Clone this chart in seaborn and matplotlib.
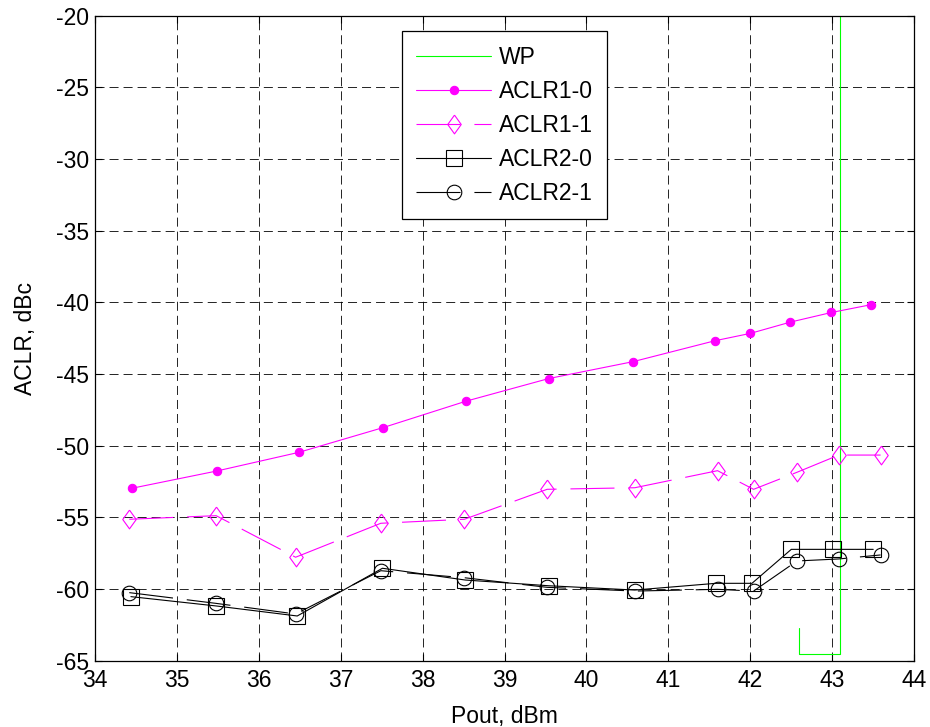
import matplotlib
matplotlib.use("Agg")
import matplotlib.pyplot as plt
import seaborn as sns
import pandas as pd

# ---- data ----
wp_x = [42.6, 42.6, 43.1, 43.1]
wp_y = [-62.7, -64.5, -64.5, -20.0]

x10 = [34.45, 35.49, 36.49, 37.52, 38.53, 39.54, 40.57, 41.57, 42.00, 42.49, 42.99, 43.47]
aclr10 = [-52.97, -51.76, -50.46, -48.73, -46.89, -45.31, -44.13, -42.67, -42.16, -41.37, -40.70, -40.16]

x11 = [34.42, 35.48, 36.45, 37.49, 38.51, 39.52, 40.59, 41.60, 42.04, 42.57, 43.08, 43.59]
aclr11 = [-55.13, -54.88, -57.78, -55.41, -55.13, -53.04, -52.93, -51.74, -53.04, -51.85, -50.65, -50.65]

x20 = [34.44, 35.48, 36.47, 37.51, 38.52, 39.54, 40.59, 41.58, 42.02, 42.50, 43.01, 43.50]
aclr20 = [-60.53, -61.18, -61.88, -58.55, -59.37, -59.77, -60.07, -59.60, -59.60, -57.23, -57.23, -57.23]

x21 = [34.42, 35.48, 36.45, 37.49, 38.51, 39.52, 40.59, 41.60, 42.04, 42.57, 43.08, 43.59]
aclr21 = [-60.25, -61.00, -61.74, -58.72, -59.21, -59.88, -60.14, -60.02, -60.14, -58.04, -57.90, -57.62]

x_ticks = [34, 35, 36, 37, 38, 39, 40, 41, 42, 43, 44]
y_ticks = [-65, -60, -55, -50, -45, -40, -35, -30, -25, -20]

sns.set_theme(style="ticks")
plt.rcParams['font.family'] = ['Liberation Sans', 'DejaVu Sans']
plt.rcParams['lines.scale_dashes'] = False
FS = 16.5

fig = plt.figure(figsize=(9.3, 7.27), dpi=100)
ax = fig.add_axes([0.102, 0.0912, 0.881, 0.887])

DASH = (31.7, 10.0)
lw = 0.8

sns.lineplot(x=wp_x, y=wp_y, ax=ax, sort=False, estimator=None, color='#00FF00',
             lw=lw, label='WP')
sns.lineplot(x=x10, y=aclr10, ax=ax, sort=False, estimator=None, color='#FF00FF',
             lw=lw, marker='o', markersize=6, mec='#FF00FF', mew=0.8, label='ACLR1-0')
sns.lineplot(x=x11, y=aclr11, ax=ax, sort=False, estimator=None, color='#FF00FF',
             lw=lw, marker=[(0, 1), (0.72, 0), (0, -1), (-0.72, 0), (0, 1)], markersize=13.5,
             mec='#FF00FF', mew=0.8, markerfacecolor='none', dashes=DASH, label='ACLR1-1')
sns.lineplot(x=x20, y=aclr20, ax=ax, sort=False, estimator=None, color='black',
             lw=lw, marker='s', markersize=11, mec='black', mew=0.8,
             markerfacecolor='none', label='ACLR2-0')
sns.lineplot(x=x21, y=aclr21, ax=ax, sort=False, estimator=None, color='black',
             lw=lw, marker='o', markersize=10.5, mec='black', mew=0.8,
             markerfacecolor='none', dashes=DASH, label='ACLR2-1')

for ln in ax.get_lines():
    if ln.get_marker() not in (None, 'None', '') and ln.get_label() != 'ACLR1-0':
        ln.set_markerfacecolor('none')

ax.set_xlim(34, 44)
ax.set_ylim(-65, -20)
ax.set_xticks(x_ticks)
ax.set_yticks(y_ticks)
ax.set_xticklabels([str(v) for v in x_ticks], fontsize=FS)
ax.set_yticklabels([str(v) for v in y_ticks], fontsize=FS)
ax.tick_params(direction='in', length=5, width=0.8, top=True, right=True,
               colors='black', pad=4)
ax.tick_params(axis='x', pad=6)
ax.grid(True, color='black', linewidth=0.6, linestyle=(0, (6.5, 3.6)))
for s in ax.spines.values():
    s.set_visible(True)
    s.set_color('black')
    s.set_linewidth(0.9)
ax.set_facecolor('white')

ax.set_xlabel('Pout, dBm', fontsize=FS, labelpad=9, color='black')
ax.set_ylabel('ACLR, dBc', fontsize=FS, labelpad=14, color='black')

leg = ax.legend(loc='upper left', bbox_to_anchor=(0.375, 0.976), borderaxespad=0,
                fontsize=FS, frameon=True, fancybox=False, framealpha=1,
                edgecolor='black', handlelength=3.27, handletextpad=0.35,
                borderpad=0.62, labelspacing=0.48, numpoints=1)
leg.get_frame().set_linewidth(0.9)
for t in leg.get_texts():
    t.set_color('black')

fig.savefig('out.png', dpi=100, facecolor='white')
